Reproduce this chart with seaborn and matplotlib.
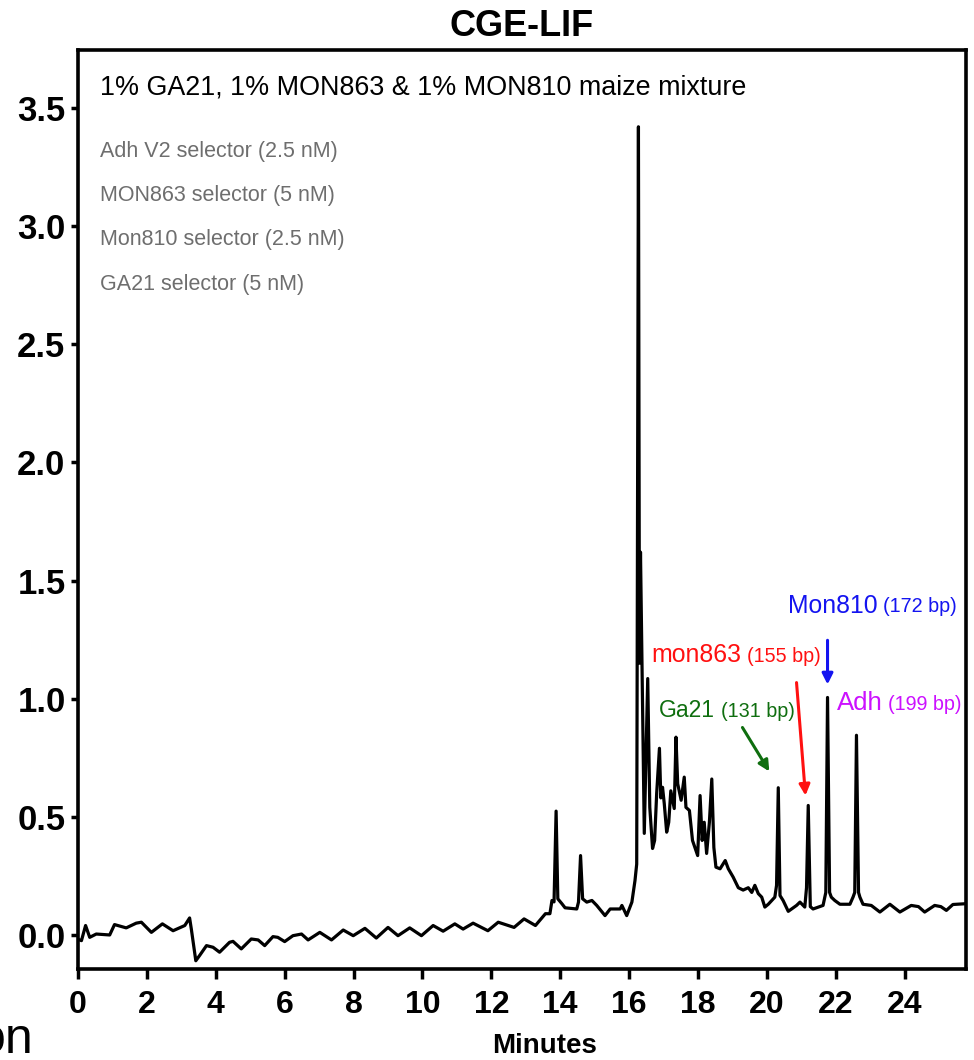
import numpy as np
import pandas as pd
import matplotlib
matplotlib.use("Agg")
import matplotlib.pyplot as plt
import seaborn as sns

# ---- data ----
minutes = [0.03, 0.10, 0.22, 0.34, 0.53, 0.92, 1.06, 1.40, 1.69, 1.84, 2.13, 2.45, 2.76, 3.10, 3.24,
           3.29, 3.42, 3.53, 3.73, 3.92, 4.11, 4.40, 4.50, 4.74, 5.03, 5.23, 5.42, 5.66, 5.80, 6.00,
           6.24, 6.49, 6.68, 7.02, 7.36, 7.70, 7.99, 8.33, 8.66, 9.00, 9.29, 9.63, 9.97, 10.31, 10.60,
           10.94, 11.18, 11.47, 11.90, 12.20, 12.66, 12.95, 13.28, 13.57, 13.70, 13.76, 13.82, 13.88,
           13.93, 14.05, 14.14, 14.48, 14.53, 14.59, 14.65, 14.77, 14.92, 15.06, 15.30, 15.45, 15.74,
           15.79, 15.93, 16.08, 16.17, 16.22, 16.27, 16.30, 16.33, 16.44, 16.54, 16.60, 16.68, 16.74,
           16.80, 16.88, 16.92, 16.97, 17.02, 17.09, 17.15, 17.21, 17.31, 17.36, 17.41, 17.51, 17.60,
           17.65, 17.75, 17.84, 17.99, 18.06, 18.12, 18.18, 18.25, 18.33, 18.40, 18.46, 18.52, 18.64,
           18.79, 18.88, 19.02, 19.17, 19.31, 19.46, 19.56, 19.65, 19.75, 19.85, 19.94, 20.04, 20.23,
           20.28, 20.33, 20.38, 20.47, 20.62, 20.86, 20.96, 21.10, 21.15, 21.20, 21.26, 21.34, 21.63,
           21.71, 21.76, 21.82, 21.87, 21.97, 22.12, 22.41, 22.50, 22.55, 22.60, 22.66, 22.70, 22.79,
           23.03, 23.28, 23.57, 23.86, 24.19, 24.40, 24.58, 24.87, 25.05, 25.21, 25.40, 25.74]
signal = [-0.020, -0.024, 0.040, -0.010, 0.004, 0.000, 0.044, 0.030, 0.050, 0.054, 0.011, 0.047, 0.018,
          0.040, 0.072, 0.025, -0.109, -0.087, -0.045, -0.052, -0.073, -0.031, -0.027, -0.059, -0.017,
          -0.021, -0.045, -0.007, -0.010, -0.028, -0.003, 0.004, -0.021, 0.011, -0.021, 0.021, -0.003,
          0.028, -0.013, 0.032, -0.003, 0.030, -0.003, 0.040, 0.016, 0.047, 0.025, 0.050, 0.018, 0.054,
          0.032, 0.068, 0.040, 0.090, 0.090, 0.146, 0.140, 0.524, 0.153, 0.132, 0.115, 0.110, 0.139,
          0.336, 0.153, 0.139, 0.146, 0.125, 0.082, 0.110, 0.110, 0.125, 0.082, 0.139, 0.230, 0.300,
          3.420, 1.150, 1.620, 0.430, 1.085, 0.540, 0.366, 0.400, 0.600, 0.790, 0.580, 0.625, 0.556,
          0.435, 0.477, 0.610, 0.535, 0.837, 0.640, 0.570, 0.668, 0.540, 0.527, 0.400, 0.336, 0.590,
          0.400, 0.477, 0.345, 0.477, 0.660, 0.370, 0.287, 0.280, 0.315, 0.280, 0.245, 0.200, 0.190,
          0.200, 0.180, 0.210, 0.175, 0.160, 0.118, 0.130, 0.160, 0.210, 0.623, 0.167, 0.146, 0.100,
          0.125, 0.139, 0.118, 0.200, 0.548, 0.120, 0.110, 0.125, 0.180, 1.005, 0.180, 0.160, 0.146,
          0.130, 0.130, 0.160, 0.180, 0.845, 0.180, 0.160, 0.130, 0.125, 0.097, 0.130, 0.097, 0.125,
          0.120, 0.097, 0.125, 0.120, 0.104, 0.129, 0.132]

x_ticks = [0, 2, 4, 6, 8, 10, 12, 14, 16, 18, 20, 22, 24]
y_ticks = [0.0, 0.5, 1.0, 1.5, 2.0, 2.5, 3.0, 3.5]

selectors = ["Adh V2 selector (2.5 nM)", "MON863 selector (5 nM)",
             "Mon810 selector (2.5 nM)", "GA21 selector (5 nM)"]

peak_names = ["Mon810", "mon863", "Ga21", "Adh"]
peak_sizes = ["(172 bp)", "(155 bp)", "(131 bp)", "(199 bp)"]
peak_colors = ["#1414f0", "#ff1010", "#0f6e0f", "#cc11ff"]
label_pos = [(20.60, 1.394), (16.64, 1.183), (16.87, 0.950), (22.02, 0.980)]
arrow_tail = [(21.76, 1.247), (20.86, 1.068), (19.29, 0.878), None]
arrow_head = [(21.76, 1.060), (21.12, 0.590), (20.07, 0.692), None]

df = pd.DataFrame({"Minutes": minutes, "Signal": signal})

# ---- style ----
sns.set_style("ticks")
plt.rcParams["font.family"] = ["Liberation Sans", "DejaVu Sans"]
for k in ["text.color", "xtick.color", "ytick.color", "axes.labelcolor", "axes.edgecolor"]:
    plt.rcParams[k] = "black"

fig = plt.figure(figsize=(9.74, 10.60), dpi=100)
ax = fig.add_axes([78 / 974, 1 - 969 / 1060, (966 - 78) / 974, (969 - 50) / 1060])

sns.lineplot(data=df, x="Minutes", y="Signal", ax=ax, color="black", lw=2.3,
             estimator=None, sort=False)

ax.set_xlim(0, 25.78)
ax.set_ylim(-0.144, 3.745)
ax.set_xticks(x_ticks)
ax.set_yticks(y_ticks)
ax.set_yticklabels([f"{v:.1f}" for v in y_ticks])
ax.tick_params(axis="x", labelsize=23, width=2.5, length=7, pad=8, direction="out")
ax.tick_params(axis="y", labelsize=25, width=2.5, length=5, pad=4, direction="out")
for lab in ax.get_xticklabels() + ax.get_yticklabels():
    lab.set_fontweight("bold")
for s in ax.spines.values():
    s.set_linewidth(2.6)
    s.set_color("black")
ax.set_xlabel("")
ax.set_ylabel("")

fig.text(522 / 974, 1 - 27 / 1060, "CGE-LIF", ha="center", va="center",
         fontsize=26, fontweight="bold")
fig.text(545 / 974, 1 - 1046 / 1060, "Minutes", ha="center", va="center",
         fontsize=20, fontweight="bold")
fig.text(34 / 974, 1 - 1040 / 1060, "on", ha="right", va="center", fontsize=36)

fig.text(100 / 974, 1 - 88 / 1060, "1% GA21, 1% MON863 & 1% MON810 maize mixture",
         ha="left", va="center", fontsize=19.4)
for i, s in enumerate(selectors):
    fig.text(100 / 974, 1 - (151 + 44.5 * i) / 1060, s, ha="left", va="center",
             fontsize=15.5, color="#6e6e6e")

name_sizes = [17.8, 17.9, 16.5, 18.5]
for name, size, col, pos, tail, head, fs in zip(peak_names, peak_sizes, peak_colors,
                                                label_pos, arrow_tail, arrow_head, name_sizes):
    t1 = ax.text(pos[0], pos[1], name, color=col, fontsize=fs,
                 ha="left", va="center")
    ax.annotate(size, xy=(1, 0), xycoords=t1, xytext=(4, 1), textcoords="offset points",
                color=col, fontsize=14.2, ha="left", va="bottom")
    if tail is not None:
        ax.annotate("", xy=head, xytext=tail,
                    arrowprops=dict(arrowstyle="-|>", color=col, lw=2.2,
                                    mutation_scale=16, shrinkA=0, shrinkB=0))

fig.savefig("out.png", dpi=100)
